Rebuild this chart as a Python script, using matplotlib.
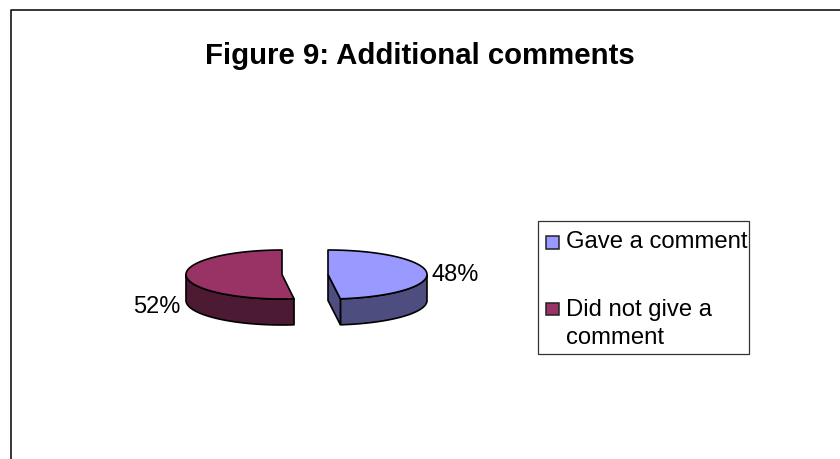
import numpy as np
import matplotlib
matplotlib.use("Agg")
import matplotlib.pyplot as plt
from matplotlib.patches import Rectangle

title = "Figure 9: Additional comments"
categories = ["Gave a comment", "Did not give a", "comment"]
values = [48, 52]
face_colors = ["#9999FF", "#993366"]
side_colors = ["#4D4D80", "#4D1A33"]

plt.rcParams['font.family'] = ['Liberation Sans', 'DejaVu Sans']
fig = plt.figure(figsize=(8.4, 4.59), dpi=100)
ax = fig.add_axes([0, 0, 1, 1])
ax.set_xlim(0, 840)
ax.set_ylim(459, 0)
ax.axis('off')

# chart frame: only left and top edges fall inside the crop
ax.plot([10.5, 10.5, 840], [459, 10, 10], color='black', lw=1.1, solid_capstyle='butt', clip_on=False)

ax.text(420, 56.5, title, fontsize=21.2, fontweight='bold', ha='center', va='center')

radii_x = [99, 96]
ry, depth, cy = 24.5, 26, 274.5
centers = [328, 282]
total = sum(values)
fr = np.cumsum([0] + values) / total * 2 * np.pi


def pt(cx, rx, a, dy=0):
    # angle a measured clockwise from 12 o'clock
    return cx + rx * np.sin(a), cy - ry * np.cos(a) + dy


for i, (cx, rx, a0, a1) in enumerate(zip(centers, radii_x, fr[:-1], fr[1:])):
    a = np.linspace(a0, a1, 90)
    x, y = pt(cx, rx, a)
    # extruded rim: only the part of the arc facing the viewer
    vis = a[(a >= np.pi / 2) & (a <= 3 * np.pi / 2)]
    xv, yv = pt(cx, rx, vis)
    xb, yb = pt(cx, rx, vis, depth)
    ax.fill(np.r_[xv, xb[::-1]], np.r_[yv, yb[::-1]], fc=side_colors[i], ec='black', lw=1.2, joinstyle='round', zorder=2)
    # cut face for the first slice
    if i == 0:
        ex, ey = pt(cx, rx, a1)
        ax.fill([cx, ex, ex, cx], [cy, ey, ey + depth, cy + depth], fc=side_colors[i], ec='black', lw=1.2, zorder=2)
    ax.fill(np.r_[cx, x], np.r_[cy, y], fc=face_colors[i], ec='black', lw=1.2, joinstyle='round', zorder=3)

ax.text(432, 275, f"{values[0]}%", fontsize=17.0, ha='left', va='center')
ax.text(180, 307, f"{values[1]}%", fontsize=17.0, ha='right', va='center')

# legend
ax.add_patch(Rectangle((537.5, 221), 211, 133, fc='white', ec='#333333', lw=0.9))
swatch_y = [242, 308.5]
swatch_colors = [face_colors[0], face_colors[1]]
for s, col in zip(swatch_y, swatch_colors):
    ax.add_patch(Rectangle((546, s - 6), 12.5, 12.5, fc=col, ec='#222222', lw=1.1))
text_y = [242, 310, 337.5]
for c, ty in zip(categories, text_y):
    ax.text(566, ty, c, fontsize=17.2, ha='left', va='center')

fig.savefig("out.png", dpi=100)
